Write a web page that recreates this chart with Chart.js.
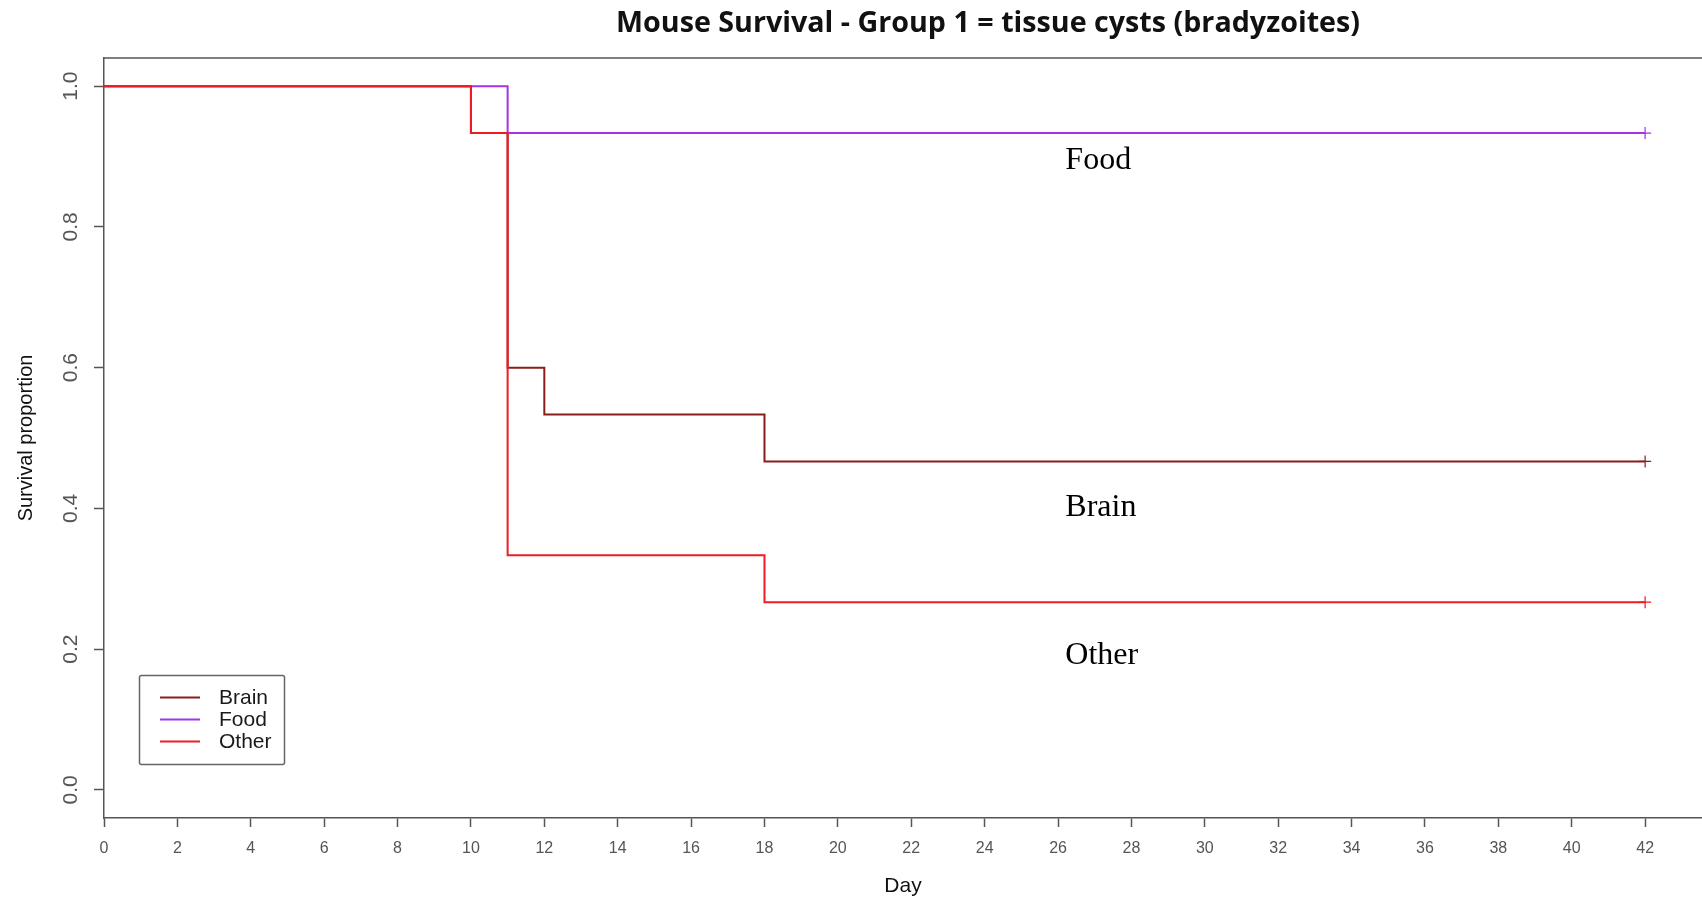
<!DOCTYPE html>
<html>
<head>
<meta charset="utf-8">
<title>Mouse Survival - Group 1</title>
<script src="https://cdn.jsdelivr.net/npm/chart.js@4/dist/chart.umd.min.js"></script>
<style>
  html, body { margin: 0; padding: 0; background: #ffffff; }
  canvas { display: block; }
</style>
</head>
<body>
<canvas id="km" width="1702" height="898"></canvas>
<script>
// Kaplan-Meier estimates: day of each step and survival proportion after it
const groupNames = ['Brain', 'Food', 'Other'];
const brainDays = [0, 10, 11, 12, 18, 42];
const brainSurvival = [1.0, 0.9333, 0.6, 0.5333, 0.4667, 0.4667];
const foodDays = [0, 11, 42];
const foodSurvival = [1.0, 0.9333, 0.9333];
const otherDays = [0, 10, 11, 18, 42];
const otherSurvival = [1.0, 0.9333, 0.3333, 0.2667, 0.2667];

// Axis ticks
const dayTicks = [0, 2, 4, 6, 8, 10, 12, 14, 16, 18, 20, 22, 24, 26, 28, 30, 32, 34, 36, 38, 40, 42];
const proportionTicks = [0.0, 0.2, 0.4, 0.6, 0.8, 1.0];

const titleText = 'Mouse Survival - Group 1 = tissue cysts (bradyzoites)';
const curveLabels = ['Food', 'Brain', 'Other'];

const colors = { Brain: '#8B1C1C', Food: '#A632E6', Other: '#EE1C24' };
const frameColor = '#555555';
const tickColor = '#555555';

function toPoints(days, values) {
  return days.map((d, i) => ({ x: d, y: values[i] }));
}

function survivalDataset(name, days, values, order) {
  const pts = toPoints(days, values);
  return {
    label: name,
    data: pts,
    stepped: 'before',
    borderColor: colors[name],
    backgroundColor: colors[name],
    borderWidth: 2,
    fill: false,
    order: order,
    // censoring mark on the last observation
    pointStyle: 'cross',
    pointRadius: ctx => (ctx.dataIndex === pts.length - 1 ? 6 : 0),
    pointBorderWidth: 1.2,
    pointHoverRadius: 0
  };
}

// Frame top edge, rotated y tick labels, title, curve names and legend box
const decorations = {
  id: 'decorations',
  afterDraw(chart) {
    const { ctx, chartArea: a, scales: { x, y } } = chart;
    ctx.save();

    ctx.strokeStyle = frameColor;
    ctx.lineWidth = 1.5;
    ctx.beginPath();
    ctx.moveTo(a.left, a.top);
    ctx.lineTo(chart.width, a.top);
    ctx.stroke();

    ctx.fillStyle = tickColor;
    ctx.font = '21px "Liberation Sans Narrow", "Liberation Sans", Arial, sans-serif';
    ctx.textAlign = 'center';
    ctx.textBaseline = 'middle';
    y.ticks.forEach(t => {
      const py = y.getPixelForValue(t.value);
      ctx.save();
      ctx.translate(71, py);
      ctx.rotate(-Math.PI / 2);
      ctx.fillText(Number(t.value).toFixed(1), 0, 0);
      ctx.restore();
    });

    ctx.fillStyle = '#111111';
    ctx.font = '700 29px "Open Sans", "Liberation Sans", sans-serif';
    ctx.textAlign = 'center';
    ctx.textBaseline = 'alphabetic';
    ctx.fillText(titleText, 988, 32, 744);

    ctx.fillStyle = '#000000';
    ctx.font = '32px "Liberation Serif", "Times New Roman", serif';
    ctx.textAlign = 'left';
    const labelSpots = { Food: [26.2, 0.882], Brain: [26.2, 0.389], Other: [26.2, 0.179] };
    curveLabels.forEach(name => {
      const [dx, dy] = labelSpots[name];
      ctx.fillText(name, x.getPixelForValue(dx), y.getPixelForValue(dy));
    });

    // legend
    ctx.strokeStyle = '#666666';
    ctx.lineWidth = 1.5;
    ctx.beginPath();
    ctx.roundRect(139.5, 675.5, 145, 89, 2);
    ctx.stroke();
    ctx.font = '21px "Liberation Sans", Arial, sans-serif';
    ctx.fillStyle = '#1a1a1a';
    ctx.textBaseline = 'middle';
    groupNames.forEach((name, i) => {
      const ly = 697.5 + i * 22;
      ctx.strokeStyle = colors[name];
      ctx.lineWidth = 2;
      ctx.beginPath();
      ctx.moveTo(160, ly);
      ctx.lineTo(200, ly);
      ctx.stroke();
      ctx.fillText(name, 219, ly + 1);
    });

    ctx.restore();
  }
};

new Chart(document.getElementById('km'), {
  type: 'line',
  data: {
    datasets: [
      survivalDataset('Brain', brainDays, brainSurvival, 3),
      survivalDataset('Food', foodDays, foodSurvival, 2),
      survivalDataset('Other', otherDays, otherSurvival, 1)
    ]
  },
  options: {
    responsive: false,
    animation: false,
    devicePixelRatio: 1,
    layout: { autoPadding: false, padding: { top: 58, left: 0, right: 0, bottom: 0 } },
    plugins: {
      legend: { display: false },
      title: { display: false },
      tooltip: { enabled: false }
    },
    scales: {
      x: {
        type: 'linear',
        min: 0,
        max: 43.55,
        afterBuildTicks: s => { s.ticks = dayTicks.map(v => ({ value: v })); },
        afterFit: s => { s.height = 80; s.paddingLeft = 0; s.paddingRight = 0; },
        ticks: {
          color: tickColor,
          padding: 12,
          maxRotation: 0,
          autoSkip: false,
          font: { family: '"Liberation Sans Narrow", "Liberation Sans", Arial, sans-serif', size: 16 },
          callback: v => String(v)
        },
        grid: { drawOnChartArea: false, drawTicks: true, tickLength: 9, tickColor: tickColor, tickWidth: 1.5 },
        border: { display: true, color: frameColor, width: 1.5 },
        title: {
          display: true,
          text: 'Day',
          color: '#111111',
          padding: { top: 0, bottom: -1 },
          font: { family: '"Liberation Sans", Arial, sans-serif', size: 21 }
        }
      },
      y: {
        type: 'linear',
        min: -0.04,
        max: 1.04,
        afterBuildTicks: s => { s.ticks = proportionTicks.map(v => ({ value: v })); },
        afterFit: s => { s.width = 104; s.paddingTop = 0; s.paddingBottom = 0; },
        ticks: { display: false },
        grid: { drawOnChartArea: false, drawTicks: true, tickLength: 10, tickColor: tickColor, tickWidth: 1.5 },
        border: { display: true, color: frameColor, width: 1.5 },
        title: {
          display: true,
          text: 'Survival proportion',
          color: '#111111',
          padding: { top: 14, bottom: 0 },
          font: { family: '"Liberation Sans Narrow", "Liberation Sans", Arial, sans-serif', size: 20 }
        }
      }
    }
  },
  plugins: [decorations]
});
</script>
</body>
</html>
